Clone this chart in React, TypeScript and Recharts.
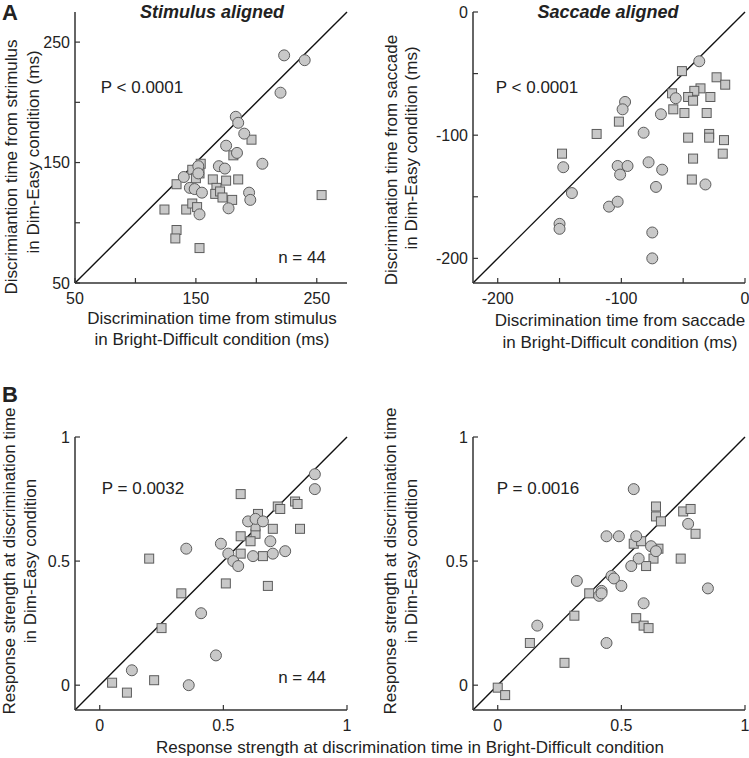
import React from 'react';
import { ScatterChart, Scatter, XAxis, YAxis, ReferenceLine } from 'recharts';

// discrimination time, stimulus aligned (ms): [bright-difficult, dim-easy]
const stimCircles = [
  [223, 239], [240, 235], [220, 208], [183, 188], [185, 183], [190, 174], [175, 164],
  [184, 158], [205, 149], [169, 147], [174, 145], [152, 147], [152, 141], [140, 138],
  [145, 129], [149, 128], [155, 125], [194, 125], [195, 119], [177, 112], [153, 107],
];
const stimSquares = [
  [196, 169], [181, 156], [154, 149], [147, 144], [153, 141], [150, 137], [164, 136],
  [185, 136], [175, 135], [134, 132], [167, 129], [166, 124], [170, 126], [172, 121],
  [180, 119], [254, 123], [124, 111], [142, 111], [147, 116], [151, 113], [134, 94],
  [133, 87], [153, 79],
];

// discrimination time, saccade aligned (ms)
const saccCircles = [
  [-37, -40], [-56, -70], [-97, -73], [-99, -79], [-68, -83], [-82, -98], [-147, -126],
  [-103, -125], [-95, -125], [-101, -132], [-78, -122], [-67, -128], [-72, -142], [-32, -140],
  [-140, -147], [-110, -158], [-103, -154], [-150, -172], [-150, -176], [-75, -179], [-75, -200],
];
const saccSquares = [
  [-51, -48], [-23, -53], [-16, -59], [-59, -66], [-36, -62], [-41, -64], [-46, -69],
  [-42, -72], [-28, -69], [-58, -79], [-49, -82], [-31, -82], [-102, -89], [-120, -99],
  [-46, -102], [-29, -99], [-29, -102], [-17, -104], [-148, -115], [-18, -115], [-42, -119],
  [-43, -136],
];

// response strength at discrimination time, stimulus aligned
const rsStimCircles = [
  [0.87, 0.85], [0.87, 0.79], [0.6, 0.66], [0.63, 0.67], [0.66, 0.66], [0.69, 0.58],
  [0.49, 0.57], [0.35, 0.55], [0.52, 0.53], [0.54, 0.5], [0.56, 0.48], [0.62, 0.52],
  [0.7, 0.53], [0.75, 0.54], [0.41, 0.29], [0.47, 0.12], [0.13, 0.06], [0.36, 0.0],
];
const rsStimSquares = [
  [0.57, 0.77], [0.64, 0.69], [0.72, 0.72], [0.73, 0.71], [0.79, 0.74], [0.8, 0.73],
  [0.81, 0.63], [0.7, 0.63], [0.57, 0.6], [0.63, 0.61], [0.63, 0.64], [0.61, 0.58],
  [0.57, 0.53], [0.66, 0.52], [0.68, 0.4], [0.51, 0.41], [0.2, 0.51], [0.33, 0.37],
  [0.25, 0.23], [0.05, 0.01], [0.22, 0.02], [0.11, -0.03],
];

// response strength at discrimination time, saccade aligned
const rsSaccCircles = [
  [0.55, 0.79], [0.44, 0.6], [0.49, 0.6], [0.56, 0.6], [0.77, 0.65], [0.62, 0.56],
  [0.64, 0.54], [0.57, 0.51], [0.54, 0.48], [0.46, 0.44], [0.47, 0.43], [0.5, 0.4],
  [0.32, 0.42], [0.42, 0.38], [0.41, 0.36], [0.42, 0.37], [0.59, 0.33], [0.85, 0.39],
  [0.16, 0.24], [0.44, 0.17],
];
const rsSaccSquares = [
  [0.64, 0.72], [0.64, 0.68], [0.66, 0.66], [0.75, 0.7], [0.78, 0.71], [0.8, 0.61],
  [0.55, 0.57], [0.58, 0.58], [0.65, 0.55], [0.63, 0.51], [0.6, 0.48], [0.74, 0.51],
  [0.37, 0.37], [0.31, 0.28], [0.56, 0.27], [0.59, 0.24], [0.61, 0.23], [0.13, 0.17],
  [0.27, 0.09], [0.0, -0.01], [0.03, -0.04],
];

const stimDomain = [50, 275];
const stimTicks = [50, 100, 150, 200, 250];
const stimLabels = [50, 150, 250];
const saccDomain = [-220, 0];
const saccTicks = [-200, -150, -100, -50, 0];
const saccLabels = [-200, -100, 0];
const rsDomain = [-0.1, 1];
const rsTicks = [0, 0.5, 1];

const FONT = 'Arial, "Liberation Sans", Helvetica, sans-serif';
const INK = '#222';
const TM = 10;
const TMY = 5;

const toPts = (arr: number[][]) => arr.map(([x, y]) => ({ x, y }));

const circleShape = (p: any) => (
  <circle cx={p.cx} cy={p.cy} r={5.5} fill="#c8c8c8" stroke="#5c5c5c" strokeWidth={1} />
);
const squareShape = (p: any) => (
  <rect x={p.cx - 4.5} y={p.cy - 4.5} width={9} height={9} fill="#c8c8c8" stroke="#5c5c5c" strokeWidth={1} />
);

const XTick = ({ x, y, payload, labeled }: any) => (
  <g>
    <line x1={x} x2={x} y1={y - TM} y2={y - TM - 5} stroke="#333" strokeWidth={1.2} />
    {labeled.includes(payload.value) && (
      <text x={x} y={y} dy="0.71em" textAnchor="middle" fontSize={16} fontFamily={FONT} fill={INK}>
        {String(payload.value)}
      </text>
    )}
  </g>
);

const YTick = ({ x, y, payload, labeled }: any) => (
  <g>
    <line x1={x + TMY} x2={x + TMY + 5} y1={y} y2={y} stroke="#333" strokeWidth={1.2} />
    {labeled.includes(payload.value) && (
      <text x={x} y={y} dy="0.36em" textAnchor="end" fontSize={16} fontFamily={FONT} fill={INK}>
        {String(payload.value)}
      </text>
    )}
  </g>
);

type PanelProps = {
  left: number;
  top: number;
  pw: number;
  ph: number;
  domain: number[];
  ticks: number[];
  labeled: number[];
  circles: number[][];
  squares: number[][];
};

const Panel = ({ left, top, pw, ph, domain, ticks, labeled, circles, squares }: PanelProps) => {
  const yw = 50;
  const xh = 40;
  return (
    <div style={{ position: 'absolute', left: left - yw, top: top - 10 }}>
      <ScatterChart
        width={pw + yw + 10}
        height={ph + 10 + xh}
        margin={{ top: 10, right: 10, bottom: 0, left: 0 }}
      >
        <XAxis
          type="number"
          dataKey="x"
          domain={domain}
          ticks={ticks}
          interval={0}
          height={xh}
          tickSize={0}
          tickMargin={TM}
          axisLine={{ stroke: '#333', strokeWidth: 1.5 }}
          tick={(p: any) => <XTick {...p} labeled={labeled} />}
          allowDataOverflow
        />
        <YAxis
          type="number"
          dataKey="y"
          domain={domain}
          ticks={ticks}
          interval={0}
          width={yw}
          tickSize={0}
          tickMargin={TMY}
          axisLine={{ stroke: '#333', strokeWidth: 1.5 }}
          tick={(p: any) => <YTick {...p} labeled={labeled} />}
          allowDataOverflow
        />
        <ReferenceLine
          segment={[{ x: domain[0], y: domain[0] }, { x: domain[1], y: domain[1] }]}
          stroke="#111"
          strokeWidth={1.4}
          ifOverflow="visible"
        />
        <Scatter data={toPts(squares)} shape={squareShape} isAnimationActive={false} />
        <Scatter data={toPts(circles)} shape={circleShape} isAnimationActive={false} />
      </ScatterChart>
    </div>
  );
};

const Txt = ({ x, y, size = 17, rotate = false, weight = 400, italic = false, children }: any) => (
  <div
    style={{
      position: 'absolute',
      left: x,
      top: y,
      transform: `translate(-50%, -50%)${rotate ? ' rotate(-90deg)' : ''}`,
      whiteSpace: 'nowrap',
      fontSize: size,
      fontWeight: weight,
      fontStyle: italic ? 'italic' : 'normal',
      lineHeight: 1.1,
      color: INK,
    }}
  >
    {children}
  </div>
);

export default function App() {
  return (
    <div
      style={{
        position: 'absolute',
        left: 0,
        top: 0,
        width: 749,
        height: 758,
        overflow: 'hidden',
        background: '#fff',
        fontFamily: FONT,
      }}
    >
      <Panel left={75} top={12} pw={272} ph={271} domain={stimDomain} ticks={stimTicks}
        labeled={stimLabels} circles={stimCircles} squares={stimSquares} />
      <Panel left={473} top={12} pw={272} ph={271} domain={saccDomain} ticks={saccTicks}
        labeled={saccLabels} circles={saccCircles} squares={saccSquares} />
      <Panel left={75} top={437} pw={272} ph={273} domain={rsDomain} ticks={rsTicks}
        labeled={rsTicks} circles={rsStimCircles} squares={rsStimSquares} />
      <Panel left={473} top={437} pw={272} ph={273} domain={rsDomain} ticks={rsTicks}
        labeled={rsTicks} circles={rsSaccCircles} squares={rsSaccSquares} />

      <Txt x={10} y={13} size={22} weight={700}>A</Txt>
      <Txt x={10} y={395} size={22} weight={700}>B</Txt>

      <Txt x={212} y={13} size={18} weight={700} italic>Stimulus aligned</Txt>
      <Txt x={608} y={13} size={18} weight={700} italic>Saccade aligned</Txt>

      <Txt x={142} y={88}>P &lt; 0.0001</Txt>
      <Txt x={302} y={258}>n = 44</Txt>
      <Txt x={537} y={88}>P &lt; 0.0001</Txt>
      <Txt x={143} y={489}>P = 0.0032</Txt>
      <Txt x={302} y={678}>n = 44</Txt>
      <Txt x={538} y={489}>P = 0.0016</Txt>

      <Txt x={212} y={319}>Discrimination time from stimulus</Txt>
      <Txt x={212} y={340}>in Bright-Difficult condition (ms)</Txt>
      <Txt x={620} y={321}>Discrimination time from saccade</Txt>
      <Txt x={620} y={343}>in Bright-Difficult condition (ms)</Txt>

      <Txt x={12} y={167} rotate>Discrimiantion time from strimulus</Txt>
      <Txt x={34} y={152} rotate>in Dim-Easy condition (ms)</Txt>
      <Txt x={392} y={160} rotate>Discrimination time from saccade</Txt>
      <Txt x={412} y={148} rotate>in Dim-Easy condition (ms)</Txt>

      <Txt x={10} y={561} rotate>Response strength at discrimination time</Txt>
      <Txt x={31} y={561} rotate>in Dim-Easy condition</Txt>
      <Txt x={391} y={561} rotate>Response strength at discrimination time</Txt>
      <Txt x={412} y={561} rotate>in Dim-Easy condition</Txt>

      <Txt x={410} y={748}>Response strength at discrimination time in Bright-Difficult condition</Txt>
    </div>
  );
}
